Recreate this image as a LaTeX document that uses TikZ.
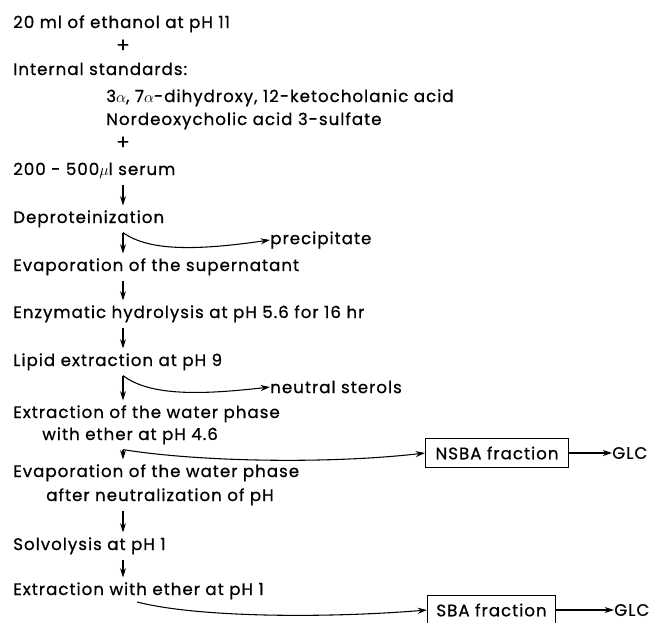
\documentclass[tikz,border=0pt]{standalone}
\usepackage{fontspec}
\setmainfont{Poppins}[LetterSpace=6,FakeBold=0.7]
\usetikzlibrary{arrows.meta}

\begin{document}
\begin{tikzpicture}[x=0.75pt,y=-0.75pt,>={Stealth[length=7pt,width=4.5pt]},
  every node/.style={font=\fontsize{12.5}{14}\selectfont,inner sep=0pt},
  stepnode/.style={anchor=base west,text height=9pt,text depth=3pt,inner ysep=4pt},
  plusnode/.style={font=\fontsize{15}{16}\selectfont},
  flow/.style={->,line width=0.8pt},
  fracbox/.style={draw,line width=0.8pt,anchor=west,minimum height=29*0.75pt}]
\useasboundingbox (0,0) rectangle (650,622);
\coordinate (col) at (123,0);
% reagents
\node[stepnode] (etoh) at (13,28) {20 ml of ethanol at pH 11};
\node[plusnode] (plusA) at (123,46) {+};
\node[stepnode] (std) at (13,75) {Internal standards:};
\node[stepnode] (stdA) at (106,102) {3$\alpha$, 7$\alpha$-dihydroxy, 12-ketocholanic acid};
\node[stepnode] (stdB) at (106,125) {Nordeoxycholic acid 3-sulfate};
\node[plusnode] (plusB) at (123,143) {+};
\node[stepnode] (serum) at (13,175) {200 - 500$\mu$l serum};
% steps
\node[stepnode] (deprot) at (13,223) {Deproteinization};
\node[stepnode] (evap) at (13,271) {Evaporation of the supernatant};
\node[stepnode] (hydro) at (13,318) {Enzymatic hydrolysis at pH 5.6 for 16 hr};
\node[stepnode] (lipid) at (13,366) {Lipid extraction at pH 9};
\node[stepnode] (extr) at (13,418) {Extraction of the water phase};
\node[stepnode] (extrb) at (42,440) {with ether at pH 4.6};
\node[stepnode] (evapw) at (13,477) {Evaporation of the water phase};
\node[stepnode] (evapwb) at (46,501) {after neutralization of pH};
\node[stepnode] (solvo) at (13,550) {Solvolysis at pH 1};
\node[stepnode] (extre) at (13,595) {Extraction with ether at pH 1};
% side products
\node[anchor=west] (prec) at (270,240) {precipitate};
\node[anchor=west] (neut) at (270,387) {neutral sterols};
\node[fracbox,minimum width=143*0.75pt] (nsba) at (425,453) {NSBA fraction};
\node[anchor=west] (glcA) at (612,453) {GLC};
\node[fracbox,minimum width=128*0.75pt] (sba) at (427,610) {SBA fraction};
\node[anchor=west] (glcB) at (614,610) {GLC};
\coordinate (sbaout) at (137,602);

\draw[flow] (serum.south -| col) -- (deprot.north -| col);
\draw[flow] (deprot.south -| col) -- (evap.north -| col);
\draw[flow] (evap.south -| col) -- (hydro.north -| col);
\draw[flow] (hydro.south -| col) -- (lipid.north -| col);
\draw[flow] (lipid.south -| col) -- (extr.north -| col);
\draw[flow] (extrb.south -| col) -- (evapw.north -| col);
\draw[flow] (evapwb.south -| col) -- (solvo.north -| col);
\draw[flow] (solvo.south -| col) -- (extre.north -| col);

\draw[flow] (deprot.south -| col) .. controls (150,252) and (200,250) .. (prec.west);
\draw[flow] (lipid.south -| col) .. controls (150,396) and (200,395) .. (neut.west);
\draw[flow] (extrb.south -| col) .. controls (200,462) and (330,464) .. (nsba.west);
\draw[flow] (sbaout) .. controls (200,618) and (330,618) .. (sba.west);
\draw[flow] (nsba) -- (glcA);
\draw[flow] (sba) -- (glcB);
\end{tikzpicture}
\end{document}
